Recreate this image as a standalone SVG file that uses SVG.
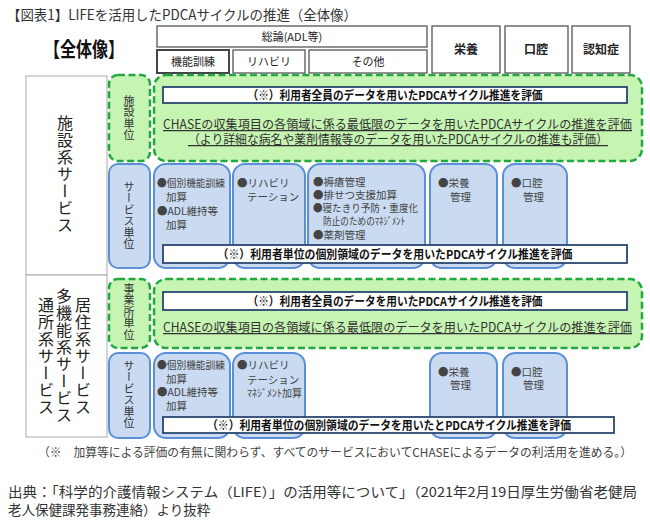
<svg xmlns="http://www.w3.org/2000/svg" width="650" height="528" viewBox="0 0 650 528">
<style>
text{font-family:"Noto Sans CJK JP","Noto Sans",sans-serif;}
.hdr{fill:#fff;stroke:#555;stroke-width:1.3;}
.hdrt{font-size:11px;fill:#222;text-anchor:middle;}
.hdrb{font-size:12px;font-weight:bold;fill:#222;text-anchor:middle;}
.green{fill:#c6f4b2;stroke:#22a83e;stroke-width:2.5;stroke-dasharray:7 3.5;}
.blue{fill:#c9daf1;stroke:#5b8fd8;stroke-width:2;}
.bar{fill:#fff;stroke:#2a4670;stroke-width:1.8;}
.bart{font-size:12px;font-weight:bold;fill:#111;text-anchor:middle;}
.chase{font-size:12.5px;fill:#333;text-decoration:underline;}
.svc{font-size:10.5px;fill:#444;}
.vl{font-size:16px;fill:#222;writing-mode:vertical-rl;letter-spacing:1px;}
.vs{font-size:11px;fill:#333;writing-mode:vertical-rl;letter-spacing:0.5px;}
</style>
<rect width="650" height="528" fill="#fff"/>
<text x="7" y="20" font-size="14" fill="#333" textLength="350" lengthAdjust="spacingAndGlyphs">【図表1】LIFEを活用したPDCAサイクルの推進（全体像）</text>
<text x="44" y="57" font-size="20" font-weight="bold" fill="#111" textLength="80" lengthAdjust="spacingAndGlyphs">【全体像】</text>

<g id="header">
<rect class="hdr" x="157" y="26" width="270" height="21"/>
<text class="hdrt" x="292" y="41">総論(ADL等)</text>
<rect class="hdr" x="157" y="50" width="72" height="23" style="stroke-width:2;stroke:#444"/>
<text class="hdrt" x="193" y="66">機能訓練</text>
<rect class="hdr" x="233" y="50" width="72" height="23"/>
<text class="hdrt" x="269" y="66">リハビリ</text>
<rect class="hdr" x="309" y="50" width="118" height="23"/>
<text class="hdrt" x="368" y="66">その他</text>
<rect class="hdr" x="432" y="26" width="68" height="47"/>
<text class="hdrb" x="466" y="54">栄養</text>
<rect class="hdr" x="505" y="26" width="63" height="47"/>
<text class="hdrb" x="536" y="54">口腔</text>
<rect class="hdr" x="572" y="26" width="58" height="47"/>
<text class="hdrb" x="601" y="54">認知症</text>
</g>

<g id="left-column">
<rect x="26" y="76" width="81" height="199" fill="#fff" stroke="#aaa" stroke-width="1"/>
<rect x="26" y="275" width="81" height="162" fill="#fff" stroke="#aaa" stroke-width="1"/>
<text class="vl" x="65" y="115">施設系サービス</text>
<text class="vl" x="83" y="297">居住系サービス</text>
<text class="vl" x="64" y="288">多機能系サービス</text>
<text class="vl" x="46" y="297">通所系サービス</text>
</g>

<g id="facility-unit">
<rect class="green" x="109" y="75" width="41" height="86" rx="9"/>
<text class="vs" x="129" y="95">施設単位</text>
<rect class="green" x="154" y="75" width="488" height="86" rx="12"/>
<rect class="bar" x="163" y="87" width="464" height="16"/>
<text class="bart" x="395" y="100" textLength="295" lengthAdjust="spacingAndGlyphs">（※）利用者全員のデータを用いたPDCAサイクル推進を評価</text>
<text class="chase" x="163" y="129" textLength="469" lengthAdjust="spacingAndGlyphs">CHASEの収集項目の各領域に係る最低限のデータを用いたPDCAサイクルの推進を評価</text>
<text class="chase" x="188" y="144" textLength="420" lengthAdjust="spacingAndGlyphs">（より詳細な病名や薬剤情報等のデータを用いたPDCAサイクルの推進も評価）</text>
</g>

<g id="facility-service-unit">
<rect class="blue" x="109" y="164" width="41" height="104" rx="9"/>
<text class="vs" x="129" y="181">サービス単位</text>
<rect class="blue" x="154" y="164" width="76" height="104" rx="12"/>
<text class="svc" x="157" y="187" textLength="68" lengthAdjust="spacingAndGlyphs">●個別機能訓練</text>
<text class="svc" x="166" y="201">加算</text>
<text class="svc" x="157" y="215" textLength="61" lengthAdjust="spacingAndGlyphs">●ADL維持等</text>
<text class="svc" x="166" y="229">加算</text>
<rect class="blue" x="233" y="164" width="72" height="104" rx="12"/>
<text class="svc" x="237" y="187">●リハビリ</text>
<text class="svc" x="247" y="201">テーション</text>
<rect class="blue" x="308" y="164" width="117" height="104" rx="12"/>
<text class="svc" x="313" y="186">●褥瘡管理</text>
<text class="svc" x="313" y="199">●排せつ支援加算</text>
<text class="svc" x="313" y="212" textLength="105" lengthAdjust="spacingAndGlyphs">●寝たきり予防・重度化</text>
<text class="svc" x="323" y="225" textLength="82" lengthAdjust="spacingAndGlyphs">防止のためのﾏﾈｼﾞﾒﾝﾄ</text>
<text class="svc" x="313" y="239">●薬剤管理</text>
<rect class="blue" x="430" y="164" width="67" height="104" rx="12"/>
<text class="svc" x="438" y="187">●栄養</text>
<text class="svc" x="450" y="201">管理</text>
<rect class="blue" x="503" y="164" width="64" height="104" rx="12"/>
<text class="svc" x="511" y="187">●口腔</text>
<text class="svc" x="523" y="201">管理</text>
<rect class="bar" x="163" y="245" width="464" height="18"/>
<text class="bart" x="395" y="259" textLength="355" lengthAdjust="spacingAndGlyphs">（※）利用者単位の個別領域のデータを用いたPDCAサイクル推進を評価</text>
</g>

<g id="office-unit">
<rect class="green" x="109" y="279" width="41" height="69" rx="9"/>
<text class="vs" x="129" y="283">事業所単位</text>
<rect class="green" x="154" y="279" width="488" height="69" rx="12"/>
<rect class="bar" x="163" y="292" width="464" height="18"/>
<text class="bart" x="395" y="306" textLength="295" lengthAdjust="spacingAndGlyphs">（※）利用者全員のデータを用いたPDCAサイクル推進を評価</text>
<text class="chase" x="163" y="332" textLength="469" lengthAdjust="spacingAndGlyphs">CHASEの収集項目の各領域に係る最低限のデータを用いたPDCAサイクルの推進を評価</text>
</g>

<g id="office-service-unit">
<rect class="blue" x="109" y="353" width="41" height="85" rx="9"/>
<text class="vs" x="129" y="360">サービス単位</text>
<rect class="blue" x="154" y="353" width="76" height="85" rx="12"/>
<text class="svc" x="157" y="369" textLength="68" lengthAdjust="spacingAndGlyphs">●個別機能訓練</text>
<text class="svc" x="166" y="383">加算</text>
<text class="svc" x="157" y="396" textLength="61" lengthAdjust="spacingAndGlyphs">●ADL維持等</text>
<text class="svc" x="166" y="410">加算</text>
<rect class="blue" x="233" y="353" width="72" height="85" rx="12"/>
<text class="svc" x="237" y="369">●リハビリ</text>
<text class="svc" x="247" y="384">テーション</text>
<text class="svc" x="247" y="397" font-size="9" textLength="55" lengthAdjust="spacingAndGlyphs">ﾏﾈｼﾞﾒﾝﾄ加算</text>
<rect class="blue" x="430" y="353" width="67" height="85" rx="12"/>
<text class="svc" x="438" y="376">●栄養</text>
<text class="svc" x="450" y="389">管理</text>
<rect class="blue" x="503" y="353" width="64" height="85" rx="12"/>
<text class="svc" x="511" y="376">●口腔</text>
<text class="svc" x="523" y="389">管理</text>
<rect class="bar" x="163" y="417" width="451" height="16"/>
<text class="bart" x="389" y="430" textLength="364" lengthAdjust="spacingAndGlyphs">（※）利用者単位の個別領域のデータを用いたとPDCAサイクル推進を評価</text>
</g>

<g id="connectors"></g>

<text x="38" y="457" font-size="12" fill="#444" textLength="594" lengthAdjust="spacingAndGlyphs">（※　加算等による評価の有無に関わらず、すべてのサービスにおいてCHASEによるデータの利活用を進める。）</text>
<text x="8" y="497" font-size="13.5" fill="#333" textLength="629" lengthAdjust="spacingAndGlyphs">出典：「科学的介護情報システム（LIFE）」の活用等について」（2021年2月19日厚生労働省老健局</text>
<text x="8" y="515" font-size="13.5" fill="#333">老人保健課発事務連絡）より抜粋</text>
</svg>
